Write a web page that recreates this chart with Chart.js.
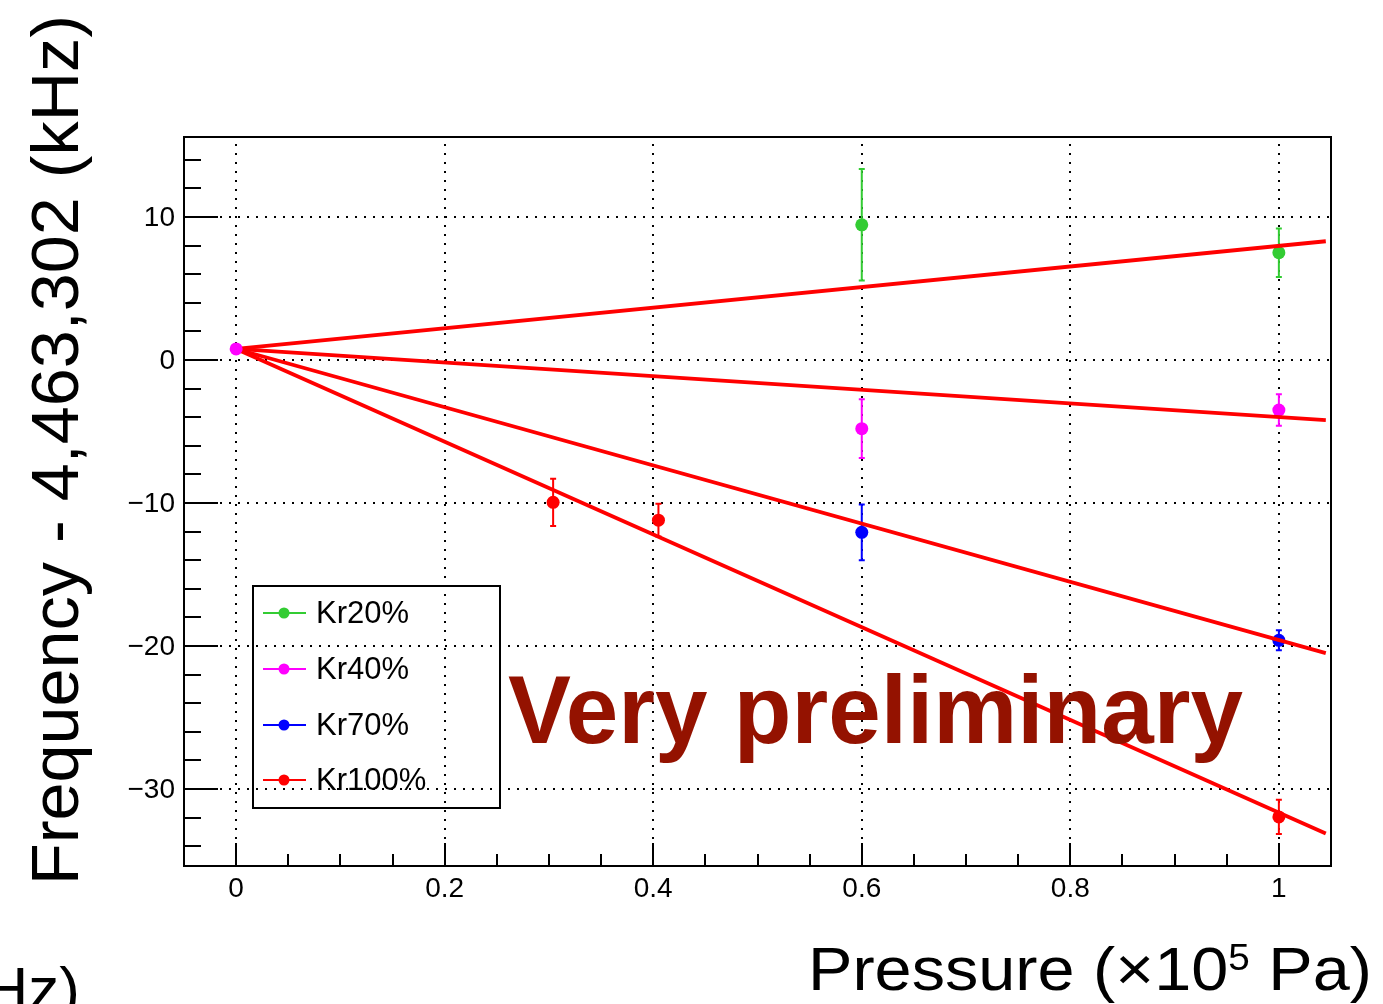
<!DOCTYPE html>
<html>
<head>
<meta charset="utf-8">
<script src="https://cdn.jsdelivr.net/npm/chart.js@4.4.0/dist/chart.umd.min.js"></script>
<style>
    html, body { margin: 0; padding: 0; background: #fff; }
</style>
</head>
<body>
<canvas id="grafico" width="1383" height="1004"></canvas>
<script>
// Datos
const seriesNames = ['Kr20%', 'Kr40%', 'Kr70%', 'Kr100%'];
const seriesColors = ['#33cc33', '#ff00ff', '#0000ff', '#ff0000'];

const kr20X = [0.6, 1.0];
const kr20Y = [9.45, 7.5];
const kr20Err = [3.9, 1.7];

const kr40X = [0.6, 1.0];
const kr40Y = [-4.8, -3.5];
const kr40Err = [2.05, 1.1];

const kr70X = [0.6, 1.0];
const kr70Y = [-12.05, -19.6];
const kr70Err = [1.95, 0.7];

const kr100X = [0.304, 0.405, 1.0];
const kr100Y = [-9.95, -11.2, -31.95];
const kr100Err = [1.65, 1.15, 1.2];

// punto de referencia (vacio)
const refX = [0];
const refY = [0.77];

// rectas de ajuste: desde la referencia hasta el borde derecho
const fitX = [0, 1.045];
const fitStartY = 0.77;
const fitEndY = [8.3, -4.2, -20.5, -33.1];

const xTicks = [0, 0.2, 0.4, 0.6, 0.8, 1];
const yTicks = [10, 0, -10, -20, -30];
const xRange = [-0.05, 1.05];
const yRange = [-35.38, 15.59];

const toPoints = (xs, ys) => xs.map((x, i) => ({ x: x, y: ys[i] }));

const pointSets = [
    [kr20X, kr20Y, kr20Err],
    [kr40X, kr40Y, kr40Err],
    [kr70X, kr70Y, kr70Err],
    [kr100X, kr100Y, kr100Err]
];

const datasets = [];
pointSets.forEach((s, i) => {
    datasets.push({
        label: seriesNames[i],
        data: toPoints(s[0], s[1]),
        yErr: s[2],
        backgroundColor: seriesColors[i],
        borderColor: seriesColors[i],
        borderWidth: 0,
        pointRadius: 6.5,
        showLine: false,
        order: 3
    });
});
fitEndY.forEach((end, i) => {
    datasets.push({
        label: 'fit ' + seriesNames[i],
        data: toPoints(fitX, [fitStartY, end]),
        borderColor: '#ff0000',
        borderWidth: 3.8,
        pointRadius: 0,
        showLine: true,
        fill: false,
        order: 2
    });
});
datasets.push({
    label: 'ref',
    data: toPoints(refX, refY),
    backgroundColor: seriesColors[1],
    borderWidth: 0,
    pointRadius: 6.5,
    showLine: false,
    order: 1
});

const FONT = '"Liberation Sans", Arial, Helvetica, sans-serif';

function fitText(ctx, text, x, y, width) {
    const w = ctx.measureText(text).width;
    ctx.save();
    ctx.translate(x, y);
    ctx.scale(width / w, 1);
    ctx.fillText(text, 0, 0);
    ctx.restore();
}

// Barras de error debajo de los marcadores
const errorBars = {
    id: 'errorBars',
    beforeDatasetDraw(chart, args) {
        const ds = chart.data.datasets[args.index];
        if (!ds.yErr) return;
        const ctx = chart.ctx;
        const xs = chart.scales.x, ys = chart.scales.y;
        ctx.save();
        ctx.strokeStyle = ds.borderColor;
        ctx.lineWidth = 2;
        ds.data.forEach((p, i) => {
            const px = xs.getPixelForValue(p.x);
            const top = ys.getPixelForValue(p.y + ds.yErr[i]);
            const bot = ys.getPixelForValue(p.y - ds.yErr[i]);
            ctx.beginPath();
            ctx.moveTo(px, top); ctx.lineTo(px, bot);
            ctx.moveTo(px - 3, top); ctx.lineTo(px + 3, top);
            ctx.moveTo(px - 3, bot); ctx.lineTo(px + 3, bot);
            ctx.stroke();
        });
        ctx.restore();
    }
};

// Rejilla punteada
const grid = {
    id: 'grid',
    beforeDatasetsDraw(chart) {
        const ctx = chart.ctx, a = chart.chartArea;
        const xs = chart.scales.x, ys = chart.scales.y;
        ctx.save();
        ctx.strokeStyle = '#000';
        ctx.lineWidth = 2;
        ctx.setLineDash([2, 7]);
        xTicks.forEach(v => {
            const px = Math.round(xs.getPixelForValue(v));
            ctx.beginPath(); ctx.moveTo(px, a.bottom); ctx.lineTo(px, a.top); ctx.stroke();
        });
        yTicks.forEach(v => {
            const py = Math.round(ys.getPixelForValue(v));
            ctx.beginPath(); ctx.moveTo(a.left, py); ctx.lineTo(a.right, py); ctx.stroke();
        });
        ctx.restore();
    }
};

// Marco, marcas, etiquetas, leyenda y textos
const frame = {
    id: 'frame',
    afterDatasetsDraw(chart) {
        const ctx = chart.ctx, a = chart.chartArea;
        const xs = chart.scales.x, ys = chart.scales.y;
        ctx.save();
        ctx.strokeStyle = '#000';
        ctx.lineWidth = 2;
        ctx.strokeRect(a.left, a.top, a.right - a.left, a.bottom - a.top);

        // marcas del eje x
        ctx.beginPath();
        for (let k = -1; k <= 21; k++) {
            const v = k * 0.05;
            const px = Math.round(xs.getPixelForValue(v));
            if (px < a.left || px > a.right) continue;
            const len = (k % 4 === 0) ? 23 : 12;
            ctx.moveTo(px, a.bottom); ctx.lineTo(px, a.bottom - len);
        }
        // marcas del eje y
        for (let v = -34; v <= 14; v += 2) {
            const py = Math.round(ys.getPixelForValue(v));
            const len = (v % 10 === 0) ? 34 : 17;
            ctx.moveTo(a.left, py); ctx.lineTo(a.left + len, py);
        }
        ctx.stroke();

        ctx.fillStyle = '#000';
        ctx.font = '28px ' + FONT;
        ctx.textAlign = 'center';
        ctx.textBaseline = 'alphabetic';
        xTicks.forEach(v => {
            ctx.fillText(String(v), xs.getPixelForValue(v), 897);
        });
        ctx.textAlign = 'right';
        ctx.textBaseline = 'middle';
        yTicks.forEach(v => {
            const txt = v < 0 ? '\u2212' + Math.abs(v) : String(v);
            ctx.fillText(txt, 175, ys.getPixelForValue(v) + 1);
        });

        // leyenda
        ctx.lineWidth = 2;
        ctx.strokeRect(253, 586, 247, 222);
        const rows = [613, 669, 725, 780];
        ctx.textAlign = 'left';
        ctx.textBaseline = 'middle';
        ctx.font = '31px ' + FONT;
        seriesNames.forEach((name, i) => {
            const y = rows[i];
            ctx.strokeStyle = seriesColors[i];
            ctx.beginPath(); ctx.moveTo(263, y); ctx.lineTo(306, y); ctx.stroke();
            ctx.fillStyle = seriesColors[i];
            ctx.beginPath(); ctx.arc(284, y, 5.5, 0, Math.PI * 2); ctx.fill();
            ctx.fillStyle = '#000';
            ctx.fillText(name, 316, y + 1);
        });

        // texto superpuesto
        ctx.textBaseline = 'alphabetic';
        ctx.fillStyle = '#941200';
        ctx.font = 'bold 96px ' + FONT;
        fitText(ctx, 'Very preliminary', 508, 743, 735);

        // titulo eje x
        ctx.fillStyle = '#000';
        const p1 = 'Pressure (\u00d710', p2 = '5', p3 = ' Pa)';
        ctx.font = '62px ' + FONT;
        const w1 = ctx.measureText(p1).width, w3 = ctx.measureText(p3).width;
        ctx.font = '36px ' + FONT;
        const w2 = ctx.measureText(p2).width;
        const sx = 564 / (w1 + w2 + w3);
        ctx.save();
        ctx.translate(808, 990);
        ctx.scale(sx, 1);
        ctx.font = '62px ' + FONT;
        ctx.fillText(p1, 0, 0);
        ctx.font = '36px ' + FONT;
        ctx.fillText(p2, w1, -20);
        ctx.font = '62px ' + FONT;
        ctx.fillText(p3, w1 + w2, 0);
        ctx.restore();

        // titulo eje y
        ctx.save();
        ctx.translate(78, 885);
        ctx.rotate(-Math.PI / 2);
        ctx.font = '66px ' + FONT;
        fitText(ctx, 'Frequency - 4,463,302 (kHz)', 0, 0, 870);
        ctx.restore();

        // fragmento recortado
        ctx.font = '62px ' + FONT;
        ctx.textAlign = 'right';
        ctx.fillText('Hz)', 80, 1010);
        ctx.restore();
    }
};

window.onload = function () {
    const ctx = document.getElementById('grafico').getContext('2d');
    new Chart(ctx, {
        type: 'scatter',
        data: { datasets: datasets },
        options: {
            responsive: false,
            animation: false,
            devicePixelRatio: 1,
            layout: { padding: { left: 184, top: 137, right: 52, bottom: 138 } },
            scales: {
                x: { type: 'linear', min: xRange[0], max: xRange[1], display: false },
                y: { type: 'linear', min: yRange[0], max: yRange[1], display: false }
            },
            plugins: {
                legend: { display: false },
                tooltip: { enabled: false },
                title: { display: false }
            }
        },
        plugins: [grid, errorBars, frame]
    });
};
</script>
</body>
</html>
